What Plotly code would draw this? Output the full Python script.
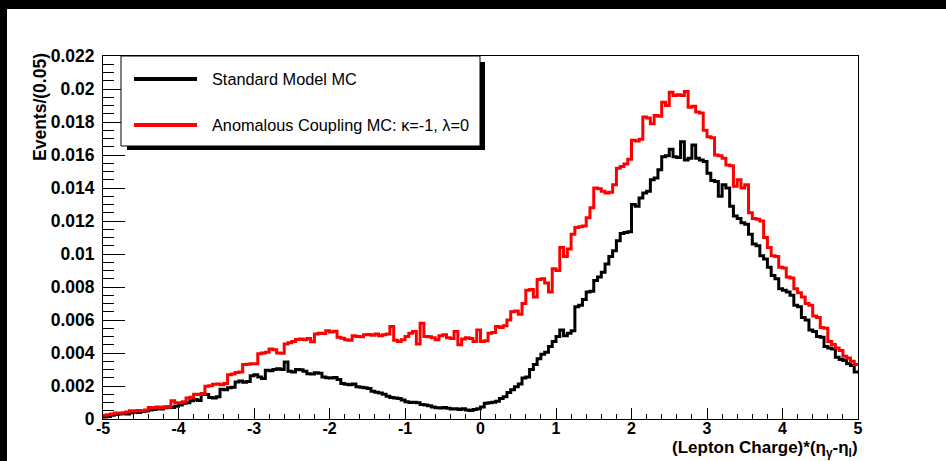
import numpy as np
import plotly.graph_objects as go

# ---- data: 200 bins of width 0.05 from -5 to 5 ----
x_min, x_max, n_bins = -5.0, 5.0, 200

sm_values = [
    # -5 .. -4
    0.00012, 0.00015, 0.00022, 0.00028, 0.00030, 0.00033, 0.00031, 0.00038, 0.00042, 0.00040,
    0.00045, 0.00048, 0.00055, 0.00058, 0.00062, 0.00060, 0.00068, 0.00072, 0.00070, 0.00078,
    # -4 .. -3
    0.00085, 0.00095, 0.00098, 0.00110, 0.00118, 0.00112, 0.00150, 0.00148, 0.00130, 0.00128,
    0.00135, 0.00180, 0.00178, 0.00190, 0.00192, 0.00225, 0.00230, 0.00222, 0.00228, 0.00262,
    # -3 .. -2
    0.00268, 0.00255, 0.00245, 0.00295, 0.00292, 0.00300, 0.00305, 0.00300, 0.00345, 0.00290,
    0.00285, 0.00300, 0.00298, 0.00290, 0.00275, 0.00272, 0.00280, 0.00278, 0.00255, 0.00250,
    # -2 .. -1
    0.00248, 0.00252, 0.00240, 0.00215, 0.00210, 0.00208, 0.00212, 0.00195, 0.00192, 0.00190,
    0.00185, 0.00168, 0.00162, 0.00158, 0.00150, 0.00138, 0.00130, 0.00128, 0.00125, 0.00115,
    # -1 .. 0
    0.00105, 0.00100, 0.00102, 0.00098, 0.00088, 0.00085, 0.00080, 0.00072, 0.00068, 0.00066,
    0.00070, 0.00065, 0.00060, 0.00062, 0.00058, 0.00062, 0.00055, 0.00052, 0.00058, 0.00062,
    # 0 .. 1
    0.00072, 0.00095, 0.00098, 0.00102, 0.00108, 0.00125, 0.00135, 0.00160, 0.00178, 0.00195,
    0.00212, 0.00248, 0.00255, 0.00300, 0.00330, 0.00365, 0.00392, 0.00405, 0.00440, 0.00470,
    # 1 .. 2
    0.00500, 0.00540, 0.00505, 0.00520, 0.00535, 0.00680, 0.00690, 0.00725, 0.00770, 0.00775,
    0.00840, 0.00860, 0.00890, 0.00940, 0.00985, 0.01020, 0.01080, 0.01125, 0.01130, 0.01135,
    # 2 .. 3
    0.01300, 0.01290, 0.01340, 0.01370, 0.01380, 0.01450, 0.01460, 0.01510, 0.01590, 0.01595,
    0.01635, 0.01590, 0.01585, 0.01680, 0.01570, 0.01580, 0.01660, 0.01580, 0.01570, 0.01560,
    # 3 .. 4
    0.01490, 0.01445, 0.01440, 0.01350, 0.01420, 0.01400, 0.01290, 0.01230, 0.01215, 0.01190,
    0.01180, 0.01120, 0.01060, 0.01050, 0.00990, 0.00970, 0.00920, 0.00870, 0.00850, 0.00790,
    # 4 .. 5
    0.00780, 0.00770, 0.00750, 0.00690, 0.00680, 0.00615, 0.00600, 0.00540, 0.00530, 0.00500,
    0.00495, 0.00440, 0.00430, 0.00425, 0.00375, 0.00360, 0.00355, 0.00335, 0.00325, 0.00285,
]

ac_values = [
    # -5 .. -4
    0.00022, 0.00026, 0.00030, 0.00036, 0.00035, 0.00038, 0.00042, 0.00050, 0.00048, 0.00052,
    0.00050, 0.00055, 0.00070, 0.00068, 0.00072, 0.00070, 0.00075, 0.00072, 0.00110, 0.00098,
    # -4 .. -3
    0.00098, 0.00105, 0.00128, 0.00132, 0.00150, 0.00148, 0.00155, 0.00198, 0.00202, 0.00210,
    0.00212, 0.00208, 0.00215, 0.00268, 0.00272, 0.00282, 0.00285, 0.00330, 0.00332, 0.00335,
    # -3 .. -2
    0.00335, 0.00395, 0.00400, 0.00405, 0.00425, 0.00420, 0.00400, 0.00398, 0.00455, 0.00462,
    0.00470, 0.00482, 0.00485, 0.00480, 0.00488, 0.00468, 0.00515, 0.00520, 0.00518, 0.00535,
    # -2 .. -1
    0.00528, 0.00532, 0.00495, 0.00490, 0.00480, 0.00478, 0.00505, 0.00500, 0.00498, 0.00510,
    0.00512, 0.00508, 0.00515, 0.00505, 0.00510, 0.00515, 0.00560, 0.00478, 0.00470, 0.00480,
    # -1 .. 0
    0.00500, 0.00520, 0.00530, 0.00455, 0.00580, 0.00500, 0.00498, 0.00492, 0.00480, 0.00505,
    0.00510, 0.00492, 0.00488, 0.00530, 0.00450, 0.00485, 0.00492, 0.00488, 0.00470, 0.00540,
    # 0 .. 1
    0.00470, 0.00475, 0.00520, 0.00525, 0.00560, 0.00555, 0.00565, 0.00600, 0.00650, 0.00655,
    0.00635, 0.00700, 0.00780, 0.00785, 0.00740, 0.00845, 0.00850, 0.00825, 0.00770, 0.00910,
    # 1 .. 2
    0.00900, 0.01040, 0.00985, 0.01030, 0.01120, 0.01160, 0.01165, 0.01170, 0.01220, 0.01280,
    0.01400, 0.01395, 0.01380, 0.01370, 0.01375, 0.01420, 0.01520, 0.01530, 0.01545, 0.01575,
    # 2 .. 3
    0.01690, 0.01685, 0.01695, 0.01830, 0.01825, 0.01790, 0.01840, 0.01835, 0.01920, 0.01900,
    0.01980, 0.01960, 0.01965, 0.01960, 0.01985, 0.01890, 0.01895, 0.01860, 0.01855, 0.01750,
    # 3 .. 4
    0.01710, 0.01705, 0.01600, 0.01595, 0.01580, 0.01540, 0.01535, 0.01410, 0.01450, 0.01400,
    0.01420, 0.01250, 0.01215, 0.01210, 0.01200, 0.01100, 0.01040, 0.00990, 0.00985, 0.00920,
    # 4 .. 5
    0.00915, 0.00860, 0.00855, 0.00790, 0.00765, 0.00740, 0.00700, 0.00690, 0.00625, 0.00615,
    0.00555, 0.00550, 0.00470, 0.00452, 0.00430, 0.00415, 0.00380, 0.00370, 0.00350, 0.00330,
]

series_names = ["Standard Model MC", "Anomalous Coupling MC: \u03ba=-1, \u03bb=0"]
series_colors = ["#000000", "#ff0000"]

x_tick_vals = [-5, -4, -3, -2, -1, 0, 1, 2, 3, 4, 5]
x_tick_text = ["-5", "-4", "-3", "-2", "-1", "0", "1", "2", "3", "4", "5"]
y_tick_vals = [0, 0.002, 0.004, 0.006, 0.008, 0.010, 0.012, 0.014, 0.016, 0.018, 0.020, 0.022]
y_tick_text = ["0", "0.002", "0.004", "0.006", "0.008", "0.01", "0.012", "0.014",
               "0.016", "0.018", "0.02", "0.022"]

x_title = "(Lepton Charge)*(\u03b7<sub>\u03b3</sub>-\u03b7<sub>l</sub>)"
y_title = "Events/(0.05)"

# ---- layout geometry (screen pixels; page margin removed, figure fills the window) ----
W, H = 946, 461
L, R, T, B = 103, 858, 56, 419      # plot frame
pw, ph = R - L, B - T


def px(xs):
    return (xs - L) / pw


def py(ys):
    return (B - ys) / ph


edges = np.linspace(x_min, x_max, n_bins + 1)

fig = go.Figure()
for vals, name, col in zip([sm_values, ac_values], series_names, series_colors):
    yy = list(vals) + [vals[-1]]
    fig.add_trace(go.Scatter(
        x=edges, y=yy, mode="lines", line=dict(color=col, width=3, shape="hv"),
        name=name, showlegend=False, hoverinfo="skip",
    ))

FONT = "Liberation Sans, Arial, sans-serif"
ytick_font = dict(family=FONT, size=17.5, color="black", weight="bold")
xtick_font = dict(family=FONT, size=16, color="black", weight="bold")

fig.update_layout(
    width=W, height=H,
    margin=dict(l=L, r=W - R, t=T, b=H - B, pad=0),
    paper_bgcolor="white", plot_bgcolor="white",
    xaxis=dict(
        range=[x_min, x_max], tickmode="array", tickvals=x_tick_vals, ticktext=x_tick_text,
        ticks="inside", ticklen=11, tickwidth=1, tickcolor="black",
        minor=dict(tick0=0, dtick=0.2, ticks="inside", ticklen=5, tickwidth=1, tickcolor="black"),
        showline=True, linecolor="black", linewidth=1, mirror=True,
        showgrid=False, zeroline=False, tickfont=xtick_font, ticklabelstandoff=-5,
    ),
    yaxis=dict(
        range=[0, 0.022], tickmode="array", tickvals=y_tick_vals, ticktext=y_tick_text,
        ticks="inside", ticklen=22, tickwidth=1, tickcolor="black",
        minor=dict(tick0=0, dtick=0.0005, ticks="inside", ticklen=11, tickwidth=1, tickcolor="black"),
        showline=True, linecolor="black", linewidth=1, mirror=True,
        showgrid=False, zeroline=False, tickfont=ytick_font, ticklabelstandoff=4,
    ),
)

shapes = []
# black canvas border strips (top and left), as in the original screenshot
shapes.append(dict(type="rect", xref="paper", yref="paper", x0=px(0), x1=px(W), y0=py(9), y1=py(0),
                   fillcolor="black", line=dict(width=0), layer="above"))
shapes.append(dict(type="rect", xref="paper", yref="paper", x0=px(0), x1=px(7), y0=py(H), y1=py(0),
                   fillcolor="black", line=dict(width=0), layer="above"))
# legend shadow and box
shapes.append(dict(type="rect", xref="paper", yref="paper", x0=px(127), x1=px(485), y0=py(150), y1=py(62),
                   fillcolor="black", line=dict(width=0), layer="above"))
shapes.append(dict(type="rect", xref="paper", yref="paper", x0=px(121), x1=px(480), y0=py(146), y1=py(56),
                   fillcolor="white", line=dict(color="black", width=1), layer="above"))
# legend line samples
for yy_px, col in zip([79, 125], series_colors):
    shapes.append(dict(type="line", xref="paper", yref="paper", x0=px(134), x1=px(197),
                       y0=py(yy_px), y1=py(yy_px), line=dict(color=col, width=4), layer="above"))
fig.update_layout(shapes=shapes)

annotations = []
for yy_px, name in zip([79, 125], series_names):
    annotations.append(dict(xref="paper", yref="paper", x=px(210), y=py(yy_px), text=name,
                            showarrow=False, xanchor="left", yanchor="middle",
                            font=dict(family=FONT, size=16.3, color="black")))
annotations.append(dict(xref="paper", yref="paper", x=px(860), y=py(449), text=x_title, showarrow=False,
                        xanchor="right", yanchor="middle",
                        font=dict(family=FONT, size=17, color="black", weight="bold")))
annotations.append(dict(xref="paper", yref="paper", x=px(40), y=py(51), text=y_title, showarrow=False,
                        textangle=-90, xanchor="center", yanchor="top",
                        font=dict(family=FONT, size=17.5, color="black", weight="bold")))
fig.update_layout(annotations=annotations)

# remove the default page margin so the 946x461 figure fills the window exactly
page_js = (
    "document.documentElement.style.background='white';"
    "document.body.style.background='white';"
    "document.body.style.margin='0';"
    "document.body.style.overflow='hidden';"
    "document.documentElement.style.overflow='hidden';"
)
fig.write_html("out.html", post_script=page_js,
               config={"displayModeBar": False, "responsive": False})
